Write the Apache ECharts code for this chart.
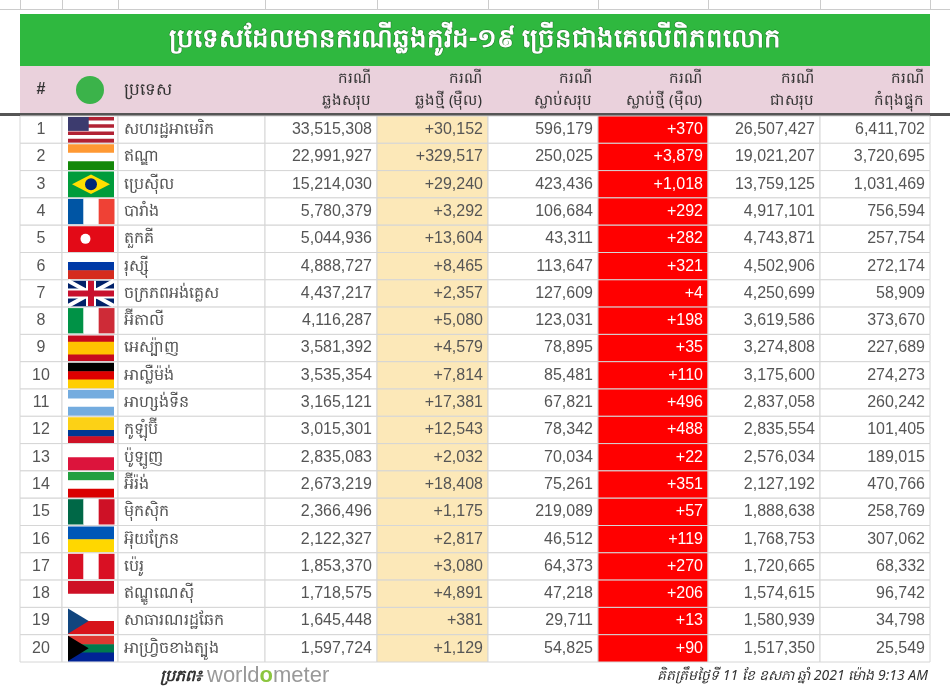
<!DOCTYPE html>
<html><head><meta charset="utf-8">
<script src="https://cdn.jsdelivr.net/npm/echarts@6/dist/echarts.min.js"></script>
<style>html,body{margin:0;padding:0;background:#fff}#c{width:950px;height:698px}</style>
</head><body><div id="c"></div>
<script>
const ranks = [1,2,3,4,5,6,7,8,9,10,11,12,13,14,15,16,17,18,19,20];
const countries = ['សហរដ្ឋអាមេរិក','ឥណ្ឌា','ប្រេស៊ីល','បារាំង','តួកគី','រុស្ស៊ី','ចក្រភពអង់គ្លេស','អ៊ីតាលី','អេស្ប៉ាញ','អាល្លឺម៉ង់','អាហ្សង់ទីន','កូឡុំប៊ី','ប៉ូឡូញ','អ៊ីរ៉ង់','ម៉ិកស៊ិក','អ៊ុយក្រែន','ប៉េរូ','ឥណ្ឌូណេស៊ី','សាធារណរដ្ឋឆែក','អាហ្វ្រិចខាងត្បូង'];
const totalCases = [33515308,22991927,15214030,5780379,5044936,4888727,4437217,4116287,3581392,3535354,3165121,3015301,2835083,2673219,2366496,2122327,1853370,1718575,1645448,1597724];
const newCases = [30152,329517,29240,3292,13604,8465,2357,5080,4579,7814,17381,12543,2032,18408,1175,2817,3080,4891,381,1129];
const totalDeaths = [596179,250025,423436,106684,43311,113647,127609,123031,78895,85481,67821,78342,70034,75261,219089,46512,64373,47218,29711,54825];
const newDeaths = [370,3879,1018,292,282,321,4,198,35,110,496,488,22,351,57,119,270,206,13,90];
const recovered = [26507427,19021207,13759125,4917101,4743871,4502906,4250699,3619586,3274808,3175600,2837058,2835554,2576034,2127192,1888638,1768753,1720665,1574615,1580939,1517350];
const active = [6411702,3720695,1031469,756594,257754,272174,58909,373670,227689,274273,260242,101405,189015,470766,258769,307062,68332,96742,34798,25549];
const headers = ['#','','ប្រទេស','ករណី\nឆ្លងសរុប','ករណី\nឆ្លងថ្មី (ម៉ឺល)','ករណី\nស្លាប់សរុប','ករណី\nស្លាប់ថ្មី (ម៉ឺល)','ករណី\nជាសរុប','ករណី\nកំពុងផ្ទុក'];
const title = 'ប្រទេសដែលមានករណីឆ្លងកូវីដ-១៩ ច្រើនជាងគេលើពិភពលោក';

const flags = [
 {d:'h',c:['#b22234','#fff','#b22234','#fff','#b22234','#fff','#b22234'],canton:'#3c3b6e'},
 {d:'h',c:['#ff9933','#fff','#138808']},
 {d:'h',c:['#009c3b'],diamond:'#ffdf00',dot:'#002776'},
 {d:'v',c:['#0055a4','#fff','#ef4135']},
 {d:'h',c:['#e30a17'],dot:'#fff'},
 {d:'h',c:['#fff','#0039a6','#d52b1e']},
 {d:'h',c:['#012169'],cross:true},
 {d:'v',c:['#009246','#fff','#ce2b37']},
 {d:'h',c:['#c60b1e','#ffc400','#ffc400','#c60b1e']},
 {d:'h',c:['#000','#dd0000','#ffce00']},
 {d:'h',c:['#74acdf','#fff','#74acdf']},
 {d:'h',c:['#fcd116','#fcd116','#003893','#ce1126']},
 {d:'h',c:['#fff','#dc143c']},
 {d:'h',c:['#239f40','#fff','#da0000']},
 {d:'v',c:['#006847','#fff','#ce1126']},
 {d:'h',c:['#0057b7','#ffd700']},
 {d:'v',c:['#d91023','#fff','#d91023']},
 {d:'h',c:['#ce1126','#fff']},
 {d:'h',c:['#fff','#d7141a'],tri:'#11457e'},
 {d:'h',c:['#de3831','#007a4d','#002395'],tri:'#000'}
];

const edges = [0,42,98,245,357,468,578,688,800,910];
const fmt = v => v.toLocaleString('en-US');
const cells = [];
for (let r=0;r<20;r++) for (let c=0;c<9;c++) cells.push([c,r]);

function cellText(c,r){
  switch(c){
    case 0: return String(ranks[r]);
    case 1: return '';
    case 2: return countries[r];
    case 3: return fmt(totalCases[r]);
    case 4: return '+'+fmt(newCases[r]);
    case 5: return fmt(totalDeaths[r]);
    case 6: return '+'+fmt(newDeaths[r]);
    case 7: return fmt(recovered[r]);
    case 8: return fmt(active[r]);
  }
}

function renderItem(params, api){
  const c = api.value(0), r = api.value(1);
  const p0 = api.coord([edges[c], r]);
  const p1 = api.coord([edges[c+1], r]);
  const h = api.size([0,1])[1];
  const x = p0[0], w = p1[0]-p0[0], y = p0[1]-h/2;
  const fill = c===4 ? '#fce8b8' : c===6 ? '#ff0000' : '#fff';
  const children = [{type:'rect',shape:{x,y,width:w,height:h},style:{fill,stroke:'#d6d6d6',lineWidth:1}}];
  if (c===1){
    const f = flags[r]; const fx=x+6, fy=y+1, fw=46, fh=h-2;
    const n=f.c.length;
    f.c.forEach((col,i)=>{
      if(f.d==='h') children.push({type:'rect',shape:{x:fx,y:fy+fh*i/n,width:fw,height:fh/n+0.5},style:{fill:col}});
      else children.push({type:'rect',shape:{x:fx+fw*i/n,y:fy,width:fw/n+0.5,height:fh},style:{fill:col}});
    });
    if(f.canton) children.push({type:'rect',shape:{x:fx,y:fy,width:fw*0.45,height:fh*0.55},style:{fill:f.canton}});
    if(f.diamond) children.push({type:'polygon',shape:{points:[[fx+4,fy+fh/2],[fx+fw/2,fy+3],[fx+fw-4,fy+fh/2],[fx+fw/2,fy+fh-3]]},style:{fill:f.diamond}});
    if(f.dot) children.push({type:'circle',shape:{cx:fx+fw*(f.diamond?0.5:0.38),cy:fy+fh/2,r:f.diamond?6:5},style:{fill:f.dot}});
    if(f.cross){
      children.push({type:'line',shape:{x1:fx,y1:fy,x2:fx+fw,y2:fy+fh},style:{stroke:'#fff',lineWidth:4}});
      children.push({type:'line',shape:{x1:fx+fw,y1:fy,x2:fx,y2:fy+fh},style:{stroke:'#fff',lineWidth:4}});
      children.push({type:'rect',shape:{x:fx+fw/2-5,y:fy,width:10,height:fh},style:{fill:'#fff'}});
      children.push({type:'rect',shape:{x:fx,y:fy+fh/2-5,width:fw,height:10},style:{fill:'#fff'}});
      children.push({type:'rect',shape:{x:fx+fw/2-3,y:fy,width:6,height:fh},style:{fill:'#c8102e'}});
      children.push({type:'rect',shape:{x:fx,y:fy+fh/2-3,width:fw,height:6},style:{fill:'#c8102e'}});
    }
    if(f.tri) children.push({type:'polygon',shape:{points:[[fx,fy],[fx+fw*0.45,fy+fh/2],[fx,fy+fh]]},style:{fill:f.tri}});
  } else {
    const align = c===0 ? 'center' : c===2 ? 'left' : 'right';
    const tx = c===0 ? x+w/2 : c===2 ? x+6 : x+w-5;
    children.push({type:'text',style:{x:tx,y:p0[1],text:cellText(c,r),align,verticalAlign:'middle',
      fill: c===6 ? '#fff' : '#555', font:'16px "Liberation Sans","Noto Sans",sans-serif'}});
  }
  return {type:'group',children};
}

const chart = echarts.init(document.getElementById('c'));
const graphics = [
  {type:'rect',shape:{x:20,y:14,width:910,height:52},style:{fill:'#2fb83f'}},
  {type:'text',style:{x:475,y:40,text:title,align:'center',verticalAlign:'middle',fill:'#fff',font:'bold 26px "Noto Sans",sans-serif',stroke:'#1a7a25',lineWidth:1}},
  {type:'rect',shape:{x:20,y:66,width:910,height:48},style:{fill:'#ead1dc'}},
  {type:'rect',shape:{x:0,y:113,width:950,height:3},style:{fill:'#555'}},
  {type:'text',style:{x:41,y:90,text:'#',align:'center',verticalAlign:'middle',fill:'#333',font:'bold 16px sans-serif'}},
  {type:'circle',shape:{cx:90,cy:90,r:14},style:{fill:'#3bb34a'}},
  {type:'text',style:{x:124,y:90,text:'ប្រទេស',align:'left',verticalAlign:'middle',fill:'#333',font:'17px "Noto Sans",sans-serif'}},
  {type:'text',style:{x:160,y:676,text:'ប្រភព៖',align:'left',verticalAlign:'middle',fill:'#333',font:'italic bold 16px "Noto Sans",sans-serif'}},
  {type:'text',style:{x:207,y:676,rich:{a:{fill:'#999',font:'22px "Liberation Sans",sans-serif'},b:{fill:'#8cc63f',font:'bold 22px "Liberation Sans",sans-serif'}},text:'{a|world}{b|o}{a|meter}',align:'left',verticalAlign:'middle'}},
  {type:'text',style:{x:928,y:676,text:'គិតត្រឹមថ្ងៃទី 11 ខែ ឧសភា ឆ្នាំ 2021 ម៉ោង 9:13 AM',align:'right',verticalAlign:'middle',fill:'#333',font:'italic 14px "Noto Sans",sans-serif'}}
];
for (let c=3;c<9;c++){
  graphics.push({type:'text',style:{x:20+edges[c+1]-6,y:90,text:headers[c],align:'right',verticalAlign:'middle',fill:'#333',font:'15px "Noto Sans",sans-serif',lineHeight:22}});
}
for (const e of edges) graphics.push({type:'rect',shape:{x:20+e,y:0,width:1,height:10},style:{fill:'#ccc'}});
graphics.push({type:'rect',shape:{x:0,y:9,width:950,height:1},style:{fill:'#ccc'}});

chart.setOption({
  animation:false,
  grid:{left:20,right:20,top:116,bottom:36},
  xAxis:{type:'value',min:0,max:910,show:false},
  yAxis:{type:'category',data:ranks.map(String),inverse:true,show:false},
  series:[{type:'custom',renderItem,data:cells,encode:{x:0,y:1}}],
  graphic:graphics
});
</script></body></html>
